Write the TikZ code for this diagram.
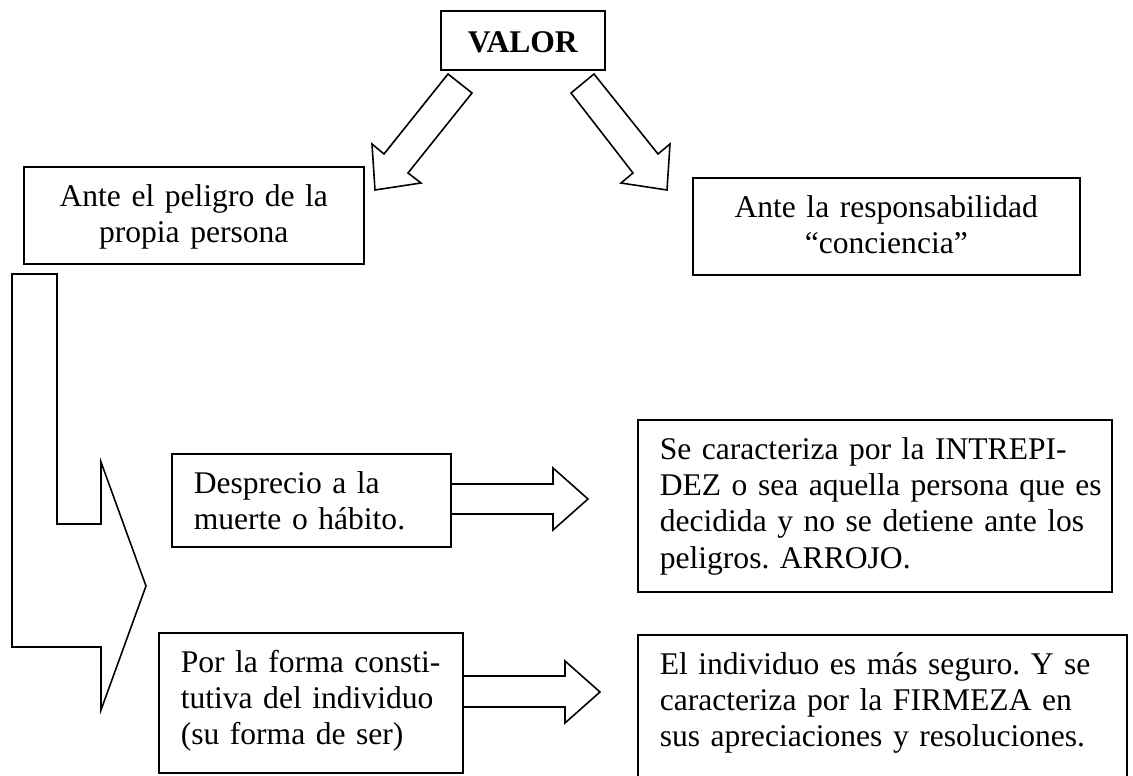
\documentclass[tikz,border=0pt]{standalone}
\usepackage{fontspec}
\setmainfont{Liberation Serif}
\tikzset{caja/.style={draw, line width=0.6pt, anchor=north west, inner xsep=8.36pt, inner ysep=0pt, text height=15pt, font=\fontsize{12}{13.8}\selectfont},
flecha/.style={line width=0.6pt}}

\begin{document}
\frenchspacing
\begin{tikzpicture}[x=0.38pt,y=-0.38pt]
\useasboundingbox (0,0) rectangle (1133,776);
\clip (0,0) rectangle (1133,776);

\node[caja, align=center, text width=45.6pt, text height=15.85pt, text depth=6.57pt, font=\fontsize{12}{13.8}\selectfont\bfseries] (valor) at (440,10) {VALOR};

\node[caja, align=center, text width=112.48pt, text depth=21.86pt] (peligro) at (23,166) {Ante el peligro de la\\propia persona};
\node[caja, align=center, text width=130.34pt, text depth=21.86pt] (resp) at (692,177) {Ante la responsabilidad\\“conciencia”};

\node[caja, align=left, text width=89.3pt, text depth=20.34pt] (desp) at (171,453) {Desprecio a la\\muerte o hábito.};
\node[caja, align=left, text width=98.8pt, text depth=38.2pt] (forma) at (158,632) {Por la forma consti-\\tutiva del individuo\\(su forma de ser)};

\node[caja, align=left, text width=163.4pt, text depth=50.36pt] (intrep) at (637,419) {Se caracteriza por la INTREPI-\\\mbox{DEZ o sea aquella persona que es}\\decidida y no se detiene ante los\\peligros. ARROJO.};
\node[caja, align=left, text width=169.1pt, text depth=64.8pt] (firmeza) at (637,634) {El individuo es más seguro. Y se\\caracteriza por la FIRMEZA en\\sus apreciaciones y resoluciones.};

\draw [flecha] (448,74) -- (384,154) -- (372,144) -- (375,190) -- (421,183) -- (408,173) -- (472,93) -- cycle;
\draw [flecha] (594,74) -- (658,154) -- (670,144) -- (667,190) -- (621,183) -- (633,173) -- (571,93) -- cycle;

\draw [flecha] (12,274) -- (57,274) -- (57,524) -- (101,524) -- (101,462) -- (146,586) -- (101,710) -- (101,647) -- (12,647) -- cycle;

\draw [flecha] (desp.east |- 0,484) -- (553,484) -- (553,468) -- (588,499) -- (553,530) -- (553,514) -- (desp.east |- 0,514);
\draw [flecha] (forma.east |- 0,676) -- (565,676) -- (565,661) -- (600,692) -- (565,723) -- (565,707) -- (forma.east |- 0,707);

\end{tikzpicture}
\end{document}
